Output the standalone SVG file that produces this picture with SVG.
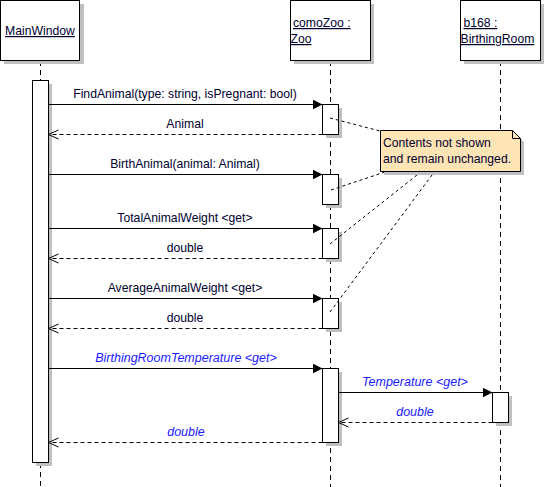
<svg xmlns="http://www.w3.org/2000/svg" width="545" height="487" viewBox="0 0 545 487">
<defs>
<style>
.box{fill:#fff;stroke:#000;stroke-width:1}
.sh{fill:#c0c0c0}
.life{stroke:#000;stroke-width:1;stroke-dasharray:5 4;fill:none}
.msg{stroke:#000;stroke-width:1;fill:none}
.ret{stroke:#000;stroke-width:1;fill:none;stroke-dasharray:4 3}
.dot{stroke:#000;stroke-width:1;fill:none;stroke-dasharray:3 3}
text{font-family:"Liberation Sans",Arial,sans-serif;font-size:12.2px;fill:#000030}
.hd{text-decoration:underline}
.c{text-anchor:middle}
.it{font-style:italic;fill:#1a1aff;font-size:12.5px}
</style>
<marker id="fa" viewBox="0 0 10 10" refX="10" refY="5" markerWidth="10" markerHeight="10" markerUnits="userSpaceOnUse" orient="auto">
<path d="M0,0 L10,5 L0,10 z" fill="#000"/>
</marker>
<marker id="oa" viewBox="0 0 11 11" refX="10" refY="5.5" markerWidth="11" markerHeight="11" markerUnits="userSpaceOnUse" orient="auto">
<path d="M0,1 L10,5.5 L0,10" fill="none" stroke="#000" stroke-width="1"/>
</marker>
</defs>
<rect width="545" height="487" fill="#fff"/>

<g id="lifelines">
<line class="life" x1="40.5" y1="61" x2="40.5" y2="80"/>
<line class="life" x1="40.5" y1="463" x2="40.5" y2="487"/>
<line class="life" x1="330.5" y1="61" x2="330.5" y2="487"/>
<line class="life" x1="500.5" y1="61" x2="500.5" y2="487"/>
</g>

<g id="MainWindow">
<rect class="sh" x="4" y="4" width="80" height="60"/>
<rect class="box" x="0.5" y="0.5" width="79" height="60"/>
<text class="hd" x="5" y="35">MainWindow</text>
</g>
<g id="comoZoo">
<rect class="sh" x="294" y="4" width="80" height="60"/>
<rect class="box" x="290.5" y="0.5" width="80" height="60"/>
<text class="hd" x="293" y="27">comoZoo :</text>
<text class="hd" x="290.5" y="43">Zoo</text>
</g>
<g id="b168">
<rect class="sh" x="464" y="4" width="80" height="60"/>
<rect class="box" x="460.5" y="0.5" width="80" height="60"/>
<text class="hd" x="463.5" y="27">b168 :</text>
<text class="hd" x="460.5" y="43">BirthingRoom</text>
</g>

<g id="activations">
<rect class="sh" x="36" y="84" width="16" height="382"/>
<rect class="box" x="32.5" y="80.5" width="16" height="382"/>
<rect class="sh" x="326" y="108" width="16" height="30"/>
<rect class="box" x="322.5" y="104.5" width="16" height="30"/>
<rect class="sh" x="326" y="178" width="16" height="30"/>
<rect class="box" x="322.5" y="174.5" width="16" height="30"/>
<rect class="sh" x="326" y="232" width="16" height="30"/>
<rect class="box" x="322.5" y="228.5" width="16" height="30"/>
<rect class="sh" x="326" y="302" width="16" height="30"/>
<rect class="box" x="322.5" y="298.5" width="16" height="30"/>
<rect class="sh" x="326" y="372" width="16" height="74"/>
<rect class="box" x="322.5" y="368.5" width="16" height="74"/>
<rect class="sh" x="496" y="396" width="16" height="30"/>
<rect class="box" x="492.5" y="392.5" width="16" height="30"/>
</g>

<g id="connectors">
<line class="msg" x1="48.5" y1="104.5" x2="322.5" y2="104.5" marker-end="url(#fa)"/>
<line class="ret" x1="322.5" y1="134.5" x2="48.5" y2="134.5" marker-end="url(#oa)"/>
<line class="msg" x1="48.5" y1="174.5" x2="322.5" y2="174.5" marker-end="url(#fa)"/>
<line class="msg" x1="48.5" y1="228.5" x2="322.5" y2="228.5" marker-end="url(#fa)"/>
<line class="ret" x1="322.5" y1="258.5" x2="48.5" y2="258.5" marker-end="url(#oa)"/>
<line class="msg" x1="48.5" y1="298.5" x2="322.5" y2="298.5" marker-end="url(#fa)"/>
<line class="ret" x1="322.5" y1="328.5" x2="48.5" y2="328.5" marker-end="url(#oa)"/>
<line class="msg" x1="48.5" y1="368.5" x2="322.5" y2="368.5" marker-end="url(#fa)"/>
<line class="msg" x1="338.5" y1="392.5" x2="492.5" y2="392.5" marker-end="url(#fa)"/>
<line class="ret" x1="492.5" y1="422.5" x2="338.5" y2="422.5" marker-end="url(#oa)"/>
<line class="ret" x1="322.5" y1="442.5" x2="48.5" y2="442.5" marker-end="url(#oa)"/>
<line class="dot" x1="330" y1="118" x2="380" y2="131"/>
<line class="dot" x1="331" y1="190" x2="388" y2="171"/>
<line class="dot" x1="330" y1="244" x2="422" y2="171"/>
<line class="dot" x1="330" y1="312" x2="435" y2="171"/>
</g>

<g id="labels">
<text class="c" x="185" y="98">FindAnimal(type: string, isPregnant: bool)</text>
<text class="c" x="185" y="128">Animal</text>
<text class="c" x="185" y="168">BirthAnimal(animal: Animal)</text>
<text class="c" x="185" y="222">TotalAnimalWeight &lt;get&gt;</text>
<text class="c" x="185" y="252">double</text>
<text class="c" x="185" y="292">AverageAnimalWeight &lt;get&gt;</text>
<text class="c" x="185" y="322">double</text>
<text class="c it" x="186" y="362">BirthingRoomTemperature &lt;get&gt;</text>
<text class="c it" x="415" y="386">Temperature &lt;get&gt;</text>
<text class="c it" x="415" y="416">double</text>
<text class="c it" x="186" y="436">double</text>
</g>

<g id="note">
<path class="sh" d="M384,134 H516 L524,142 V175 H384 z"/>
<path d="M380.5,130.5 H512.5 L520.5,138.5 V171.5 H380.5 z" fill="#ffe4b5" stroke="#000" stroke-width="1"/>
<path d="M512.5,130.5 V138.5 H520.5" fill="none" stroke="#000" stroke-width="1"/>
<text x="383" y="147" fill="#000">Contents not shown</text>
<text x="383" y="163" fill="#000">and remain unchanged.</text>
</g>
</svg>
